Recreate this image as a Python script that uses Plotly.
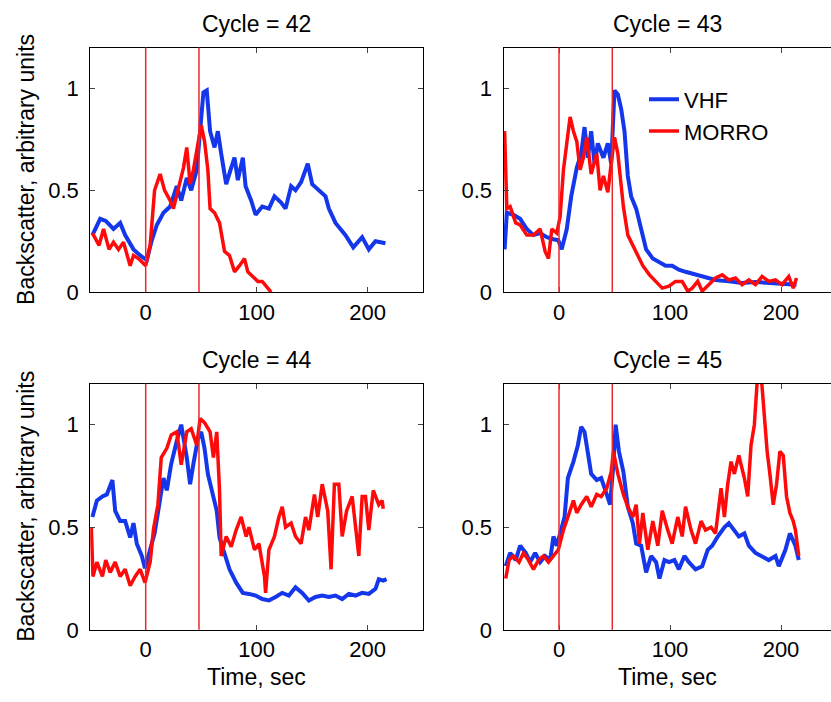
import plotly.graph_objects as go

# ---------------- data ----------------
cycles = [42, 43, 44, 45]
marker_times = [0, 48]

# Cycle 42
t42_vhf = [-48, -41, -36, -32, -29, -23, -18.5, -11, -5, 1, 5, 10, 16, 22, 28, 32, 37, 41, 46, 49, 52, 55, 58, 62, 65, 68, 72.5, 77, 80, 83, 87.5, 90, 95, 99, 105, 111, 116, 122, 126, 131, 135, 140, 146, 150, 156, 162, 165, 171, 180, 187, 195, 201, 207, 213, 216]
v42_vhf = [0.28, 0.36, 0.35, 0.33, 0.31, 0.34, 0.28, 0.21, 0.18, 0.157, 0.245, 0.33, 0.39, 0.42, 0.52, 0.45, 0.56, 0.50, 0.60, 0.79, 0.98, 0.99, 0.79, 0.71, 0.79, 0.68, 0.53, 0.61, 0.66, 0.55, 0.66, 0.52, 0.45, 0.38, 0.42, 0.41, 0.47, 0.44, 0.41, 0.52, 0.50, 0.54, 0.63, 0.53, 0.50, 0.47, 0.41, 0.34, 0.28, 0.22, 0.27, 0.21, 0.25, 0.245, 0.24]
t42_morro = [-48, -42, -38, -33, -29, -24.5, -20, -14, -11, -6.5, 0, 4, 8, 13, 17, 22, 25, 29, 34, 37, 40, 43, 47, 50, 53, 56, 58, 62, 66.5, 71, 75.5, 80, 84.5, 89, 92, 96, 101, 105, 110, 113]
v42_morro = [0.29, 0.23, 0.31, 0.21, 0.245, 0.21, 0.245, 0.13, 0.18, 0.165, 0.13, 0.23, 0.50, 0.58, 0.50, 0.45, 0.41, 0.50, 0.61, 0.71, 0.53, 0.60, 0.73, 0.82, 0.74, 0.60, 0.41, 0.39, 0.34, 0.20, 0.18, 0.10, 0.13, 0.165, 0.10, 0.077, 0.053, 0.053, 0.02, 0.0]

# Cycle 43
t43_vhf = [-49, -47, -41, -35, -29, -23, -17, -11, -5, -0.6, 2.4, 7, 11, 16, 20, 23, 26, 29, 32, 35, 40, 44, 47, 50, 53, 56, 59, 62, 65, 69.5, 74, 78.5, 84.5, 90, 96, 102, 108, 114, 123, 132, 141, 153, 165, 177, 189, 201, 214]
v43_vhf = [0.21, 0.39, 0.38, 0.36, 0.31, 0.28, 0.29, 0.27, 0.26, 0.255, 0.21, 0.31, 0.47, 0.61, 0.68, 0.81, 0.66, 0.79, 0.63, 0.73, 0.66, 0.73, 0.63, 0.99, 0.97, 0.90, 0.79, 0.57, 0.47, 0.41, 0.31, 0.21, 0.165, 0.15, 0.13, 0.13, 0.11, 0.10, 0.085, 0.07, 0.06, 0.053, 0.045, 0.05, 0.045, 0.042, 0.037]
t43_morro = [-49, -48, -47, -44, -39, -35, -29, -23, -17, -12.5, -9.5, -6.5, -2, 1, 4, 7, 10, 13, 16, 19, 22, 25, 29, 34, 37, 40, 44, 47, 50, 53, 58, 62, 66.5, 71, 75.5, 81.5, 87.5, 93, 99, 105, 111, 116, 120, 125, 129, 135, 141, 147, 153, 159, 165, 171, 177, 183, 189, 195, 201, 207, 211, 214]
v43_morro = [0.79, 0.60, 0.41, 0.42, 0.34, 0.33, 0.28, 0.28, 0.31, 0.20, 0.165, 0.31, 0.29, 0.37, 0.60, 0.73, 0.86, 0.79, 0.74, 0.60, 0.66, 0.76, 0.58, 0.68, 0.50, 0.57, 0.49, 0.63, 0.76, 0.68, 0.42, 0.28, 0.23, 0.18, 0.13, 0.085, 0.053, 0.02, 0.03, 0.053, 0.053, 0.005, 0.02, 0.053, 0.005, 0.037, 0.07, 0.085, 0.06, 0.07, 0.037, 0.06, 0.037, 0.077, 0.053, 0.06, 0.037, 0.077, 0.02, 0.07]

# Cycle 44
t44_vhf = [-48, -44, -39, -35, -30, -27.5, -23, -18.5, -14, -11, -8, -3.5, -0.6, 4, 8, 11, 16, 19, 23, 28, 32, 37, 40, 43, 47, 50, 53, 56, 61, 64, 66.5, 71, 75.5, 81.5, 87.5, 93, 99, 105, 111, 117, 123, 129, 135, 141, 147, 153, 159, 165, 171, 177, 183, 189, 195, 201, 207, 210, 214, 217]
v44_vhf = [0.55, 0.63, 0.65, 0.66, 0.73, 0.58, 0.53, 0.53, 0.45, 0.52, 0.42, 0.36, 0.30, 0.39, 0.47, 0.57, 0.74, 0.68, 0.81, 0.92, 1.0, 0.84, 0.71, 0.81, 0.93, 0.965, 0.885, 0.76, 0.65, 0.58, 0.45, 0.375, 0.295, 0.23, 0.18, 0.175, 0.167, 0.15, 0.143, 0.16, 0.18, 0.167, 0.207, 0.18, 0.143, 0.16, 0.167, 0.16, 0.167, 0.15, 0.175, 0.167, 0.18, 0.175, 0.20, 0.247, 0.24, 0.247]
t44_morro = [-49, -47.5, -44, -39, -36, -32, -27.5, -23, -18.5, -14, -9.5, -5, -0.6, 4, 7, 11, 14, 19, 23, 28, 32, 37, 41, 46, 49, 53, 58, 61, 64, 66.5, 68, 72.5, 77, 81.5, 86, 90.5, 93, 98, 102, 107, 108, 111, 116, 120, 123, 126, 131, 135, 140, 144, 147, 152, 155, 159, 164, 167, 170, 174, 177, 181, 186, 189, 192, 195, 198, 201, 205, 210, 213, 214]
v44_morro = [0.50, 0.26, 0.33, 0.26, 0.34, 0.28, 0.33, 0.26, 0.295, 0.215, 0.26, 0.295, 0.23, 0.33, 0.49, 0.61, 0.84, 0.885, 0.95, 0.965, 0.805, 0.965, 0.98, 0.90, 1.03, 1.01, 0.965, 0.84, 0.965, 0.68, 0.36, 0.455, 0.405, 0.486, 0.55, 0.455, 0.50, 0.39, 0.42, 0.26, 0.18, 0.39, 0.455, 0.55, 0.60, 0.50, 0.52, 0.455, 0.42, 0.55, 0.486, 0.66, 0.55, 0.71, 0.58, 0.295, 0.71, 0.71, 0.455, 0.58, 0.65, 0.52, 0.36, 0.65, 0.65, 0.486, 0.68, 0.61, 0.63, 0.59]

# Cycle 45
t45_vhf = [-48, -44, -39, -35, -30, -26, -21.5, -17, -12.5, -8, -5, -2, 1, 5, 8, 13, 17, 20, 23, 26, 29, 34, 38, 43, 46, 49, 51, 54, 58, 62, 66.5, 69.5, 74, 78.5, 83, 87.5, 90.5, 95, 99, 104, 108, 113, 117, 123, 129, 134, 138, 143, 149, 153, 158, 162, 167, 171, 177, 183, 189, 195, 198, 204, 208, 213, 216]
v45_vhf = [0.31, 0.375, 0.34, 0.41, 0.375, 0.33, 0.375, 0.33, 0.36, 0.34, 0.455, 0.41, 0.47, 0.55, 0.74, 0.82, 0.90, 0.99, 0.965, 0.85, 0.76, 0.73, 0.74, 0.66, 0.61, 0.805, 1.0, 0.87, 0.77, 0.60, 0.52, 0.42, 0.41, 0.28, 0.36, 0.33, 0.25, 0.34, 0.33, 0.34, 0.295, 0.36, 0.33, 0.295, 0.31, 0.39, 0.41, 0.455, 0.50, 0.52, 0.486, 0.455, 0.47, 0.41, 0.375, 0.36, 0.34, 0.36, 0.31, 0.39, 0.47, 0.41, 0.34]
t45_morro = [-48, -45, -41, -36, -32, -27.5, -23, -18.5, -14, -9.5, -5, -0.6, 4, 8, 13, 16, 20, 25, 29, 34, 38, 43, 47, 49, 53, 58, 62, 66.5, 69.5, 72.5, 75.5, 80, 84.5, 89, 93, 98, 102, 107, 111, 114, 119, 123, 128, 132, 137, 141, 146, 149, 152, 155, 158, 162, 167, 170, 173, 176, 179, 182, 185, 187.5, 190, 193, 196, 199, 202, 205, 208, 211, 213, 216]
v45_morro = [0.25, 0.34, 0.36, 0.33, 0.375, 0.34, 0.295, 0.34, 0.36, 0.33, 0.36, 0.39, 0.486, 0.55, 0.63, 0.57, 0.61, 0.65, 0.60, 0.66, 0.65, 0.69, 0.77, 0.87, 0.76, 0.66, 0.60, 0.55, 0.61, 0.42, 0.57, 0.39, 0.53, 0.41, 0.58, 0.486, 0.42, 0.55, 0.455, 0.60, 0.486, 0.42, 0.53, 0.486, 0.50, 0.47, 0.69, 0.55, 0.71, 0.82, 0.76, 0.85, 0.74, 0.65, 0.90, 1.0, 1.25, 1.25, 1.04, 0.87, 0.76, 0.61, 0.71, 0.87, 0.85, 0.65, 0.57, 0.53, 0.486, 0.36]

vhf_t = [t42_vhf, t43_vhf, t44_vhf, t45_vhf]
vhf_v = [v42_vhf, v43_vhf, v44_vhf, v45_vhf]
morro_t = [t42_morro, t43_morro, t44_morro, t45_morro]
morro_v = [v42_morro, v43_morro, v44_morro, v45_morro]

x_ticks = [0, 100, 200]
y_ticks = [0, 0.5, 1]
y_tick_labels = ["0", "0.5", "1"]

# ---------------- styling / layout ----------------
W, H = 831, 702
FONT = "Liberation Sans, Arial, Helvetica, sans-serif"
FS = 23      # titles / labels
TFS = 22     # tick labels
BLUE = "rgb(20,55,235)"
RED = "rgb(255,10,10)"
VRED = "rgb(235,40,45)"

xdom = [[90.2 / W, 423.2 / W], [503.5 / W, 1.0], [90.2 / W, 423.2 / W], [503.5 / W, 1.0]]
ydom = [[1 - 297.7 / H, 1 - 48.5 / H], [1 - 297.7 / H, 1 - 48.5 / H],
        [1 - 641.7 / H, 1 - 390.9 / H], [1 - 641.7 / H, 1 - 390.9 / H]]
xrng = [[-50, 250], [-50, (831 - 559) / 1.11], [-50, 250], [-50, (831 - 559) / 1.11]]

fig = go.Figure()
layout = dict(width=W, height=H, margin=dict(l=0, r=0, t=0, b=0),
              paper_bgcolor="white", plot_bgcolor="white",
              font=dict(family=FONT, size=FS, color="black"),
              showlegend=True,
              legend=dict(x=644 / W, y=1 - 80 / H, xanchor="left", yanchor="top",
                          bgcolor="rgba(0,0,0,0)", borderwidth=0,
                          font=dict(family=FONT, size=TFS, color="black"),
                          tracegroupgap=0, itemwidth=30))
annotations = []
shapes = []

for i in range(4):
    n = "" if i == 0 else str(i + 1)
    xa, ya = "x" + n, "y" + n
    right = i in (1, 3)
    layout["xaxis" + n] = dict(domain=xdom[i], range=xrng[i], anchor=ya,
                               tickvals=x_ticks, ticks="inside", ticklen=5,
                               showline=True, linecolor="black", linewidth=1,
                               mirror="allticks", showgrid=False, zeroline=False,
                               tickfont=dict(size=TFS, color="black"))
    layout["yaxis" + n] = dict(domain=ydom[i], range=[0, 1.2], anchor=xa,
                               tickvals=y_ticks, ticktext=y_tick_labels,
                               ticks="inside", ticklen=5,
                               showline=True, linecolor="black", linewidth=1,
                               mirror=(False if right else "allticks"),
                               showgrid=False, zeroline=False,
                               ticklabelstandoff=6,
                               tickfont=dict(size=TFS, color="black"))
    fig.add_trace(go.Scatter(x=vhf_t[i], y=vhf_v[i], mode="lines", name="VHF",
                             line=dict(color=BLUE, width=4),
                             xaxis=xa, yaxis=ya, showlegend=(i == 1)))
    fig.add_trace(go.Scatter(x=morro_t[i], y=morro_v[i], mode="lines", name="MORRO",
                             line=dict(color=RED, width=3.5),
                             xaxis=xa, yaxis=ya, showlegend=(i == 1)))
    for mt in marker_times:
        shapes.append(dict(type="line", xref=xa, yref=ya + " domain", x0=mt, x1=mt,
                           y0=0, y1=1, line=dict(color=VRED, width=1.5)))
    annotations.append(dict(text="Cycle = %d" % cycles[i], xref=xa + " domain",
                            yref=ya + " domain", x=0.5, y=1, xanchor="center",
                            yanchor="middle", yshift=24, showarrow=False,
                            font=dict(size=FS, color="black")))
    if not right:
        annotations.append(dict(text="Backscatter, arbitrary units", textangle=-90,
                                xref="paper", x=26 / W, yref=ya + " domain", y=0.5,
                                xanchor="center", yanchor="middle", showarrow=False,
                                font=dict(size=FS, color="black")))
    if i >= 2:
        annotations.append(dict(text="Time, sec", xref=xa + " domain", x=0.5,
                                yref="paper", y=1 - 690 / H, xanchor="center",
                                yanchor="middle", showarrow=False,
                                font=dict(size=FS, color="black")))

layout["annotations"] = annotations
layout["shapes"] = shapes
fig.update_layout(**layout)
fig.write_html("out.html")
